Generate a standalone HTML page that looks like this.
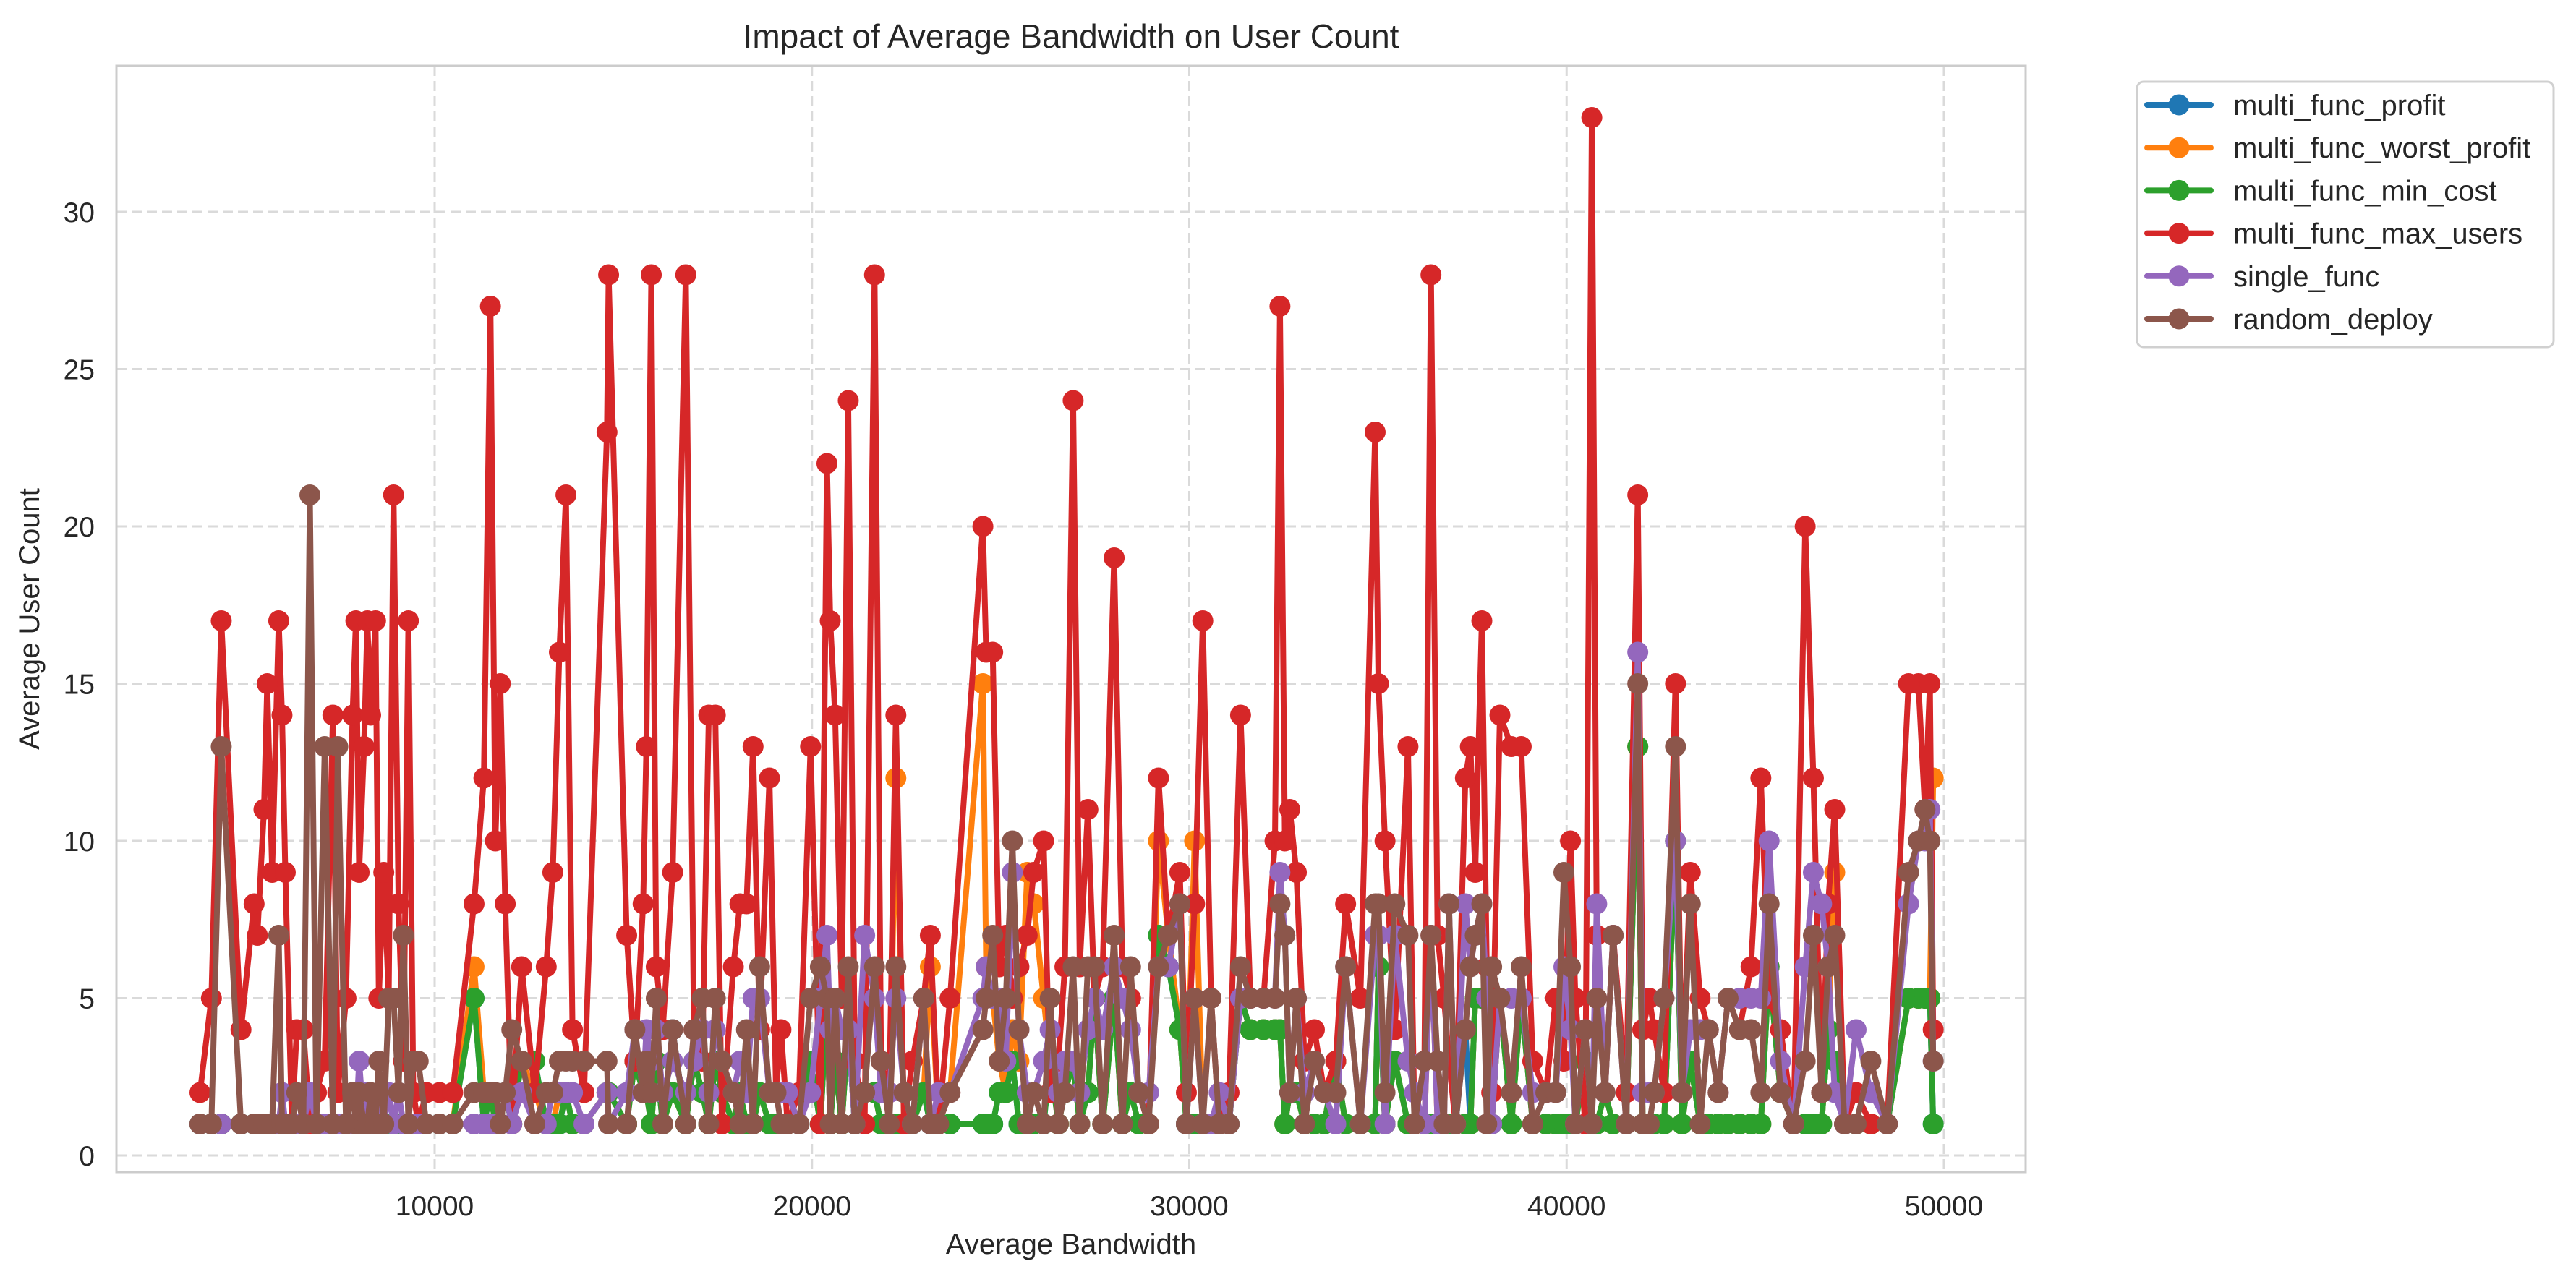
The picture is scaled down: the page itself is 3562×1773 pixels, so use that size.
<!DOCTYPE html>
<html><head><meta charset="utf-8"><style>
html,body{margin:0;padding:0;background:#fff;}
svg{display:block;font-family:"Liberation Sans",sans-serif;}
</style></head><body>
<svg id="chart" width="3562" height="1773" viewBox="0 0 3562 1773" xmlns="http://www.w3.org/2000/svg">
<rect width="3562" height="1773" fill="#fff"/>
<g id="grid"></g>
<g id="series"></g>
<rect x="161" y="91" width="2640" height="1530" fill="none" stroke="#cccccc" stroke-width="3"/>
<g id="ticks"></g>
<text x="1481" y="66" text-anchor="middle" font-size="46" fill="#262626">Impact of Average Bandwidth on User Count</text>
<text x="1481" y="1734" text-anchor="middle" font-size="40" fill="#262626">Average Bandwidth</text>
<text transform="translate(54,856) rotate(-90)" text-anchor="middle" font-size="40" fill="#262626">Average User Count</text>
<g id="legend">
<rect x="2955" y="113" width="576" height="367" rx="9" fill="#fff" stroke="#d0d0d0" stroke-width="3"/>
</g>
</svg>
<script>
const xTicks = [10000, 20000, 30000, 40000, 50000];
const yTicks = [0, 5, 10, 15, 20, 25, 30];
const seriesNames = ["multi_func_profit","multi_func_worst_profit","multi_func_min_cost","multi_func_max_users","single_func","random_deploy"];
const seriesColors = ["#1f77b4","#ff7f0e","#2ca02c","#d62728","#9467bd","#8c564b"];
const bandwidth = [
3780,4084,4345,4867,5215,5302,5476,5563,5693,5868,
5955,6042,6216,6346,6520,6694,6868,7086,7303,7433,
7651,7825,7912,7999,8130,8217,8304,8434,8521,8652,
8782,8912,9043,9173,9304,9434,9565,9782,10131,10479,
11044,11305,11479,11610,11740,11871,12045,12306,12654,12958,
13132,13306,13480,13654,13959,14568,14611,15090,15307,15525,
15612,15742,15873,16047,16308,16656,16873,17091,17265,17439,
17613,17917,18091,18265,18439,18613,18874,19048,19179,19353,
19657,19962,20223,20397,20484,20614,20788,20962,21136,21397,
21658,21832,22050,22224,22441,22659,22963,23137,23355,23660,
24530,24616,24790,24964,25138,25312,25486,25704,25878,26139,
26313,26530,26704,26922,27096,27313,27487,27705,28009,28227,
28444,28662,28923,29184,29445,29749,29923,30141,30358,30576,
30793,31054,31359,31620,31968,32272,32403,32533,32664,32838,
33055,33316,33577,33882,34143,34534,34926,35013,35187,35448,
35796,35970,36231,36405,36579,36753,36883,37057,37318,37449,
37579,37753,37884,38014,38232,38536,38797,39102,39450,39711,
39928,40102,40233,40494,40668,40798,41016,41233,41581,41886,
42016,42190,42321,42582,42886,43060,43278,43539,43756,44017,
44278,44583,44887,45148,45366,45670,46018,46323,46540,46758,
46932,47106,47367,47671,48063,48498,49063,49324,49498,49629,
49716];
const profitUsers = [
1,1,1,1,1,1,1,1,1,1, 1,1,1,1,1,1,1,1,1,1, 1,1,1,1,1,1,1,1,1,1, 1,1,1,1,1,1,1,1,1,1,
5,1,2,1,1,2,1,3,3,1, 1,1,2,1,1,2,2,1,3,2, 2,1,3,1,4,1,3,2,1,3, 2,1,2,1,1,2,1,1,1,1,
1,3,1,5,1,3,1,4,1,2, 2,1,1,1,1,1,2,1,1,1, 1,1,1,2,2,3,1,1,1,1, 3,1,2,3,1,2,5,1,5,1,
2,1,1,7,6,4,1,1,1,1, 1,1,5,4,4,4,4,1,2,2, 1,1,1,3,1,1,1,6,1,3, 1,1,1,1,1,1,1,1,4,1,
5,5,5,1,5,1,5,1,1,1, 1,1,1,3,1,1,2,1,1,13, 1,1,1,1,10,1,3,1,1,1, 1,1,1,1,6,2,1,1,1,1,
4,3,1,1,1,1,5,5,5,5, 1];
const worstProfitUsers = [
1,1,1,1,1,1,1,1,1,1, 1,1,1,1,1,1,1,1,1,1, 1,1,1,1,1,1,1,1,1,1, 1,1,1,1,1,1,1,1,1,1,
6,2,2,1,1,2,1,3,2,1, 1,2,2,1,1,2,2,1,3,2, 2,1,3,1,2,1,3,2,1,3, 2,1,2,1,1,2,1,1,1,1,
1,3,1,5,1,3,1,4,1,2, 2,1,1,12,1,1,2,6,1,2, 15,6,5,3,2,4,3,9,8,5, 3,1,2,3,1,2,5,1,5,1,
2,1,1,10,7,4,1,10,1,1, 1,1,5,4,4,4,4,1,2,2, 1,1,1,3,1,1,1,6,1,3, 1,1,1,7,1,1,1,1,1,1,
5,5,5,1,5,1,5,1,1,1, 1,1,1,3,1,1,2,1,1,13, 1,1,1,1,10,1,3,1,1,1, 1,1,1,1,6,2,1,1,1,1,
4,9,1,1,1,1,5,5,5,5, 12];
const minCostUsers = [
1,1,1,1,1,1,1,1,1,1, 1,1,1,1,1,1,1,1,1,1, 1,1,1,1,1,1,1,1,1,1, 1,1,1,1,1,1,1,1,1,1,
5,1,2,1,1,2,1,3,3,1, 1,1,2,1,1,2,2,1,3,2, 2,1,3,1,2,1,3,2,1,3, 2,1,2,1,1,2,1,1,1,1,
1,3,1,5,1,3,1,4,1,2, 2,1,1,1,1,1,2,1,1,1, 1,1,1,2,2,3,1,1,1,1, 3,1,2,3,1,2,5,1,5,1,
2,1,1,7,6,4,1,1,1,1, 1,1,5,4,4,4,4,1,2,2, 1,1,1,3,1,1,1,6,1,3, 1,1,1,1,1,1,1,1,1,1,
5,5,5,1,5,1,5,1,1,1, 1,1,1,3,1,1,2,1,1,13, 1,1,1,1,10,1,3,1,1,1, 1,1,1,1,6,2,1,1,1,1,
4,3,1,1,1,1,5,5,5,5, 1];
const maxUsersUsers = [
2,5,17,4,8,7,11,15,9,17, 14,9,1,4,4,1,2,3,14,2, 5,14,17,9,13,17,14,17,5,9, 5,21,8,3,17,2,1,2,2,2,
8,12,27,10,15,8,1,6,2,6, 9,16,21,4,2,23,28,7,3,8, 13,28,6,4,9,28,4,3,14,14, 1,6,8,8,13,4,12,2,4,1,
2,13,1,22,17,14,5,24,3,1, 28,3,2,14,1,3,5,7,1,5, 20,16,16,6,7,5,6,7,9,10, 2,3,6,24,6,11,5,6,19,6,
5,2,1,12,7,9,2,8,17,5, 1,2,14,5,5,10,27,10,11,9, 3,4,2,3,8,5,23,15,10,4, 13,1,3,28,7,5,3,1,12,13,
9,17,6,2,14,13,13,3,2,5, 3,10,5,1,33,7,2,7,2,21, 4,5,4,2,15,2,9,5,4,2, 5,4,6,12,5,4,1,20,12,2,
8,11,1,2,1,1,15,15,11,15, 4];
const singleFuncUsers = [
1,1,1,1,1,1,1,1,1,1, 2,1,1,1,1,2,1,1,1,1, 1,1,1,3,1,2,1,1,2,1, 2,1,2,1,1,1,1,1,1,1,
1,1,1,1,1,2,1,2,1,1, 2,2,2,2,1,2,1,2,4,2, 4,3,4,2,3,2,3,4,2,4, 3,2,3,2,5,5,2,2,2,2,
1,2,5,7,4,5,4,4,1,7, 5,2,2,5,2,1,5,1,2,2, 5,6,5,5,3,9,4,2,2,3, 4,2,3,3,2,4,5,4,6,5,
4,2,2,6,6,8,1,5,1,1, 2,1,5,5,5,5,9,7,2,5, 2,3,2,1,6,1,7,7,1,7, 3,2,1,7,1,1,8,1,8,6,
7,8,5,1,5,5,5,2,2,2, 6,4,1,4,1,8,2,7,1,16, 2,2,2,5,10,2,4,4,4,2, 5,5,5,5,10,3,1,6,9,8,
6,2,1,4,2,1,8,10,10,11, 3];
const randomDeployUsers = [
1,1,13,1,1,1,1,1,1,7, 1,1,1,2,1,21,1,13,1,13, 1,2,1,2,1,1,2,1,3,1, 5,5,2,7,1,3,3,1,1,1,
2,2,2,2,1,2,4,3,1,2, 2,3,3,3,3,3,1,1,4,2, 3,2,5,1,4,1,4,5,1,5, 3,2,1,4,1,6,2,2,1,1,
1,5,6,5,1,5,1,6,1,2, 6,3,1,6,2,1,5,1,1,2, 4,5,7,3,5,10,4,1,2,1, 5,1,2,6,1,6,6,1,7,1,
6,2,1,6,7,8,1,5,1,5, 1,1,6,5,5,5,8,7,2,5, 1,3,2,2,6,1,8,8,2,8, 7,1,3,7,3,1,8,1,4,6,
7,8,1,6,5,2,6,1,2,2, 9,6,1,4,1,5,2,7,1,15, 1,1,2,5,13,2,8,1,4,2, 5,4,4,2,8,2,1,3,7,2,
6,7,1,1,3,1,9,10,11,10, 3];
const allSeries = [profitUsers, worstProfitUsers, minCostUsers, maxUsersUsers, singleFuncUsers, randomDeployUsers];

const NS = "http://www.w3.org/2000/svg";
const PL = 161, PR = 2801, PT = 91, PB = 1621;
function xScale(v){ return 601 + (v - 10000) * 0.052175; }
function yScale(v){ return 1598 - v * 43.5; }
function mk(tag, attrs){ const e = document.createElementNS(NS, tag); for (const k in attrs) e.setAttribute(k, attrs[k]); return e; }

const grid = document.getElementById('grid');
const ticks = document.getElementById('ticks');
xTicks.forEach(t => {
  const x = xScale(t);
  const g = mk('line', {x1:x, x2:x, y1:PT, y2:PB, stroke:'#dadada', 'stroke-width':3, 'stroke-dasharray':'14,7'});
  
  
  grid.appendChild(g);
  const lb = mk('text', {x:x, y:1681, 'text-anchor':'middle', 'font-size':39, fill:'#262626'});
  lb.textContent = t;
  
  
  ticks.appendChild(lb);
});
yTicks.forEach(t => {
  const y = yScale(t);
  const g = mk('line', {x1:PL, x2:PR, y1:y, y2:y, stroke:'#dadada', 'stroke-width':3, 'stroke-dasharray':'14,7'});
  
  
  grid.appendChild(g);
  const lb = mk('text', {x:131, y:y + 14, 'text-anchor':'end', 'font-size':39, fill:'#262626'});
  lb.textContent = t;
  
  
  ticks.appendChild(lb);
});

const sg = document.getElementById('series');
allSeries.forEach((vals, si) => {
  const g = mk('g', {});
  
  
  const pts = vals.map((v, i) => xScale(bandwidth[i]).toFixed(1) + ',' + yScale(v).toFixed(1)).join(' ');
  const pl = mk('polyline', {points:pts, fill:'none', stroke:seriesColors[si], 'stroke-width':8, 'stroke-linejoin':'round'});
  
  
  g.appendChild(pl);
  vals.forEach((v, i) => {
    const c = mk('circle', {cx:xScale(bandwidth[i]), cy:yScale(v), r:14.5, fill:seriesColors[si]});
    
    
    g.appendChild(c);
  });
  sg.appendChild(g);
});

const legend = document.getElementById('legend');
seriesNames.forEach((n, i) => {
  const y = 145 + i * 59.2;
  const ln = mk('line', {x1:2969, x2:3057, y1:y, y2:y, stroke:seriesColors[i], 'stroke-width':8, 'stroke-linecap':'round'});
  
  
  legend.appendChild(ln);
  const c = mk('circle', {cx:3013, cy:y, r:14.5, fill:seriesColors[i]});
  
  
  legend.appendChild(c);
  const t = mk('text', {x:3088, y:y + 14, 'font-size':40, fill:'#262626'});
  t.textContent = n;
  
  
  legend.appendChild(t);
});
</script>
</body></html>
